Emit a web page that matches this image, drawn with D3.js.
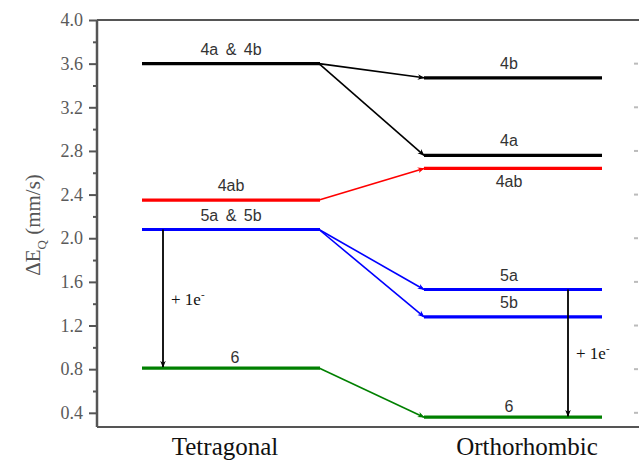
<!DOCTYPE html>
<html><head><meta charset="utf-8">
<script src="https://cdn.jsdelivr.net/npm/d3@7"></script>
<style>body{margin:0;background:#fff;} svg{display:block;}</style>
</head><body>
<svg id="chart" width="639" height="460"></svg>
<script>
// ---- data ----
const phases = ["Tetragonal", "Orthorhombic"];
const tetraLabels = ["4a & 4b", "4ab", "5a & 5b", "6"];
const tetraValues = [3.6, 2.35, 2.08, 0.81];
const tetraGroups = ["4", "4ab", "5", "6"];
const orthoLabels = ["4b", "4a", "4ab", "5a", "5b", "6"];
const orthoValues = [3.47, 2.76, 2.64, 1.53, 1.28, 0.36];
const orthoGroups = ["4", "4", "4ab", "5", "5", "6"];
const links = [[0, 0], [0, 1], [1, 2], [2, 3], [2, 4], [3, 5]]; // tetra index -> ortho index
const transitions = [{phase: "Tetragonal", from: 2.08, to: 0.81}, {phase: "Orthorhombic", from: 1.53, to: 0.36}];
const yTicks = [0.4, 0.8, 1.2, 1.6, 2.0, 2.4, 2.8, 3.2, 3.6, 4.0];
const yMinorTicks = [0.6, 1.0, 1.4, 1.8, 2.2, 2.6, 3.0, 3.4, 3.8];
const yTitle = "ΔE";

// ---- layout ----
const svg = d3.select("#chart");
const L = 97, R = 639, T = 20, B = 427;
const y = d3.scaleLinear().domain([0.27, 4.0]).range([B, T]);
const x = d3.scalePoint().domain(phases).range([231, 513]);
const halfW = 89;
const color = d3.scaleOrdinal().domain(["4", "4ab", "5", "6"]).range(["#000", "#ff0000", "#0000ff", "#008000"]);

// arrow markers
const defs = svg.append("defs");
["#000", "#ff0000", "#0000ff", "#008000"].forEach((c, i) => {
  defs.append("marker").attr("id", "ah" + i).attr("viewBox", "0 0 10 10")
    .attr("refX", 9).attr("refY", 5).attr("markerWidth", 7).attr("markerHeight", 7)
    .attr("markerUnits", "userSpaceOnUse").attr("orient", "auto")
    .append("path").attr("d", "M0,1 L10,5 L0,9 L3,5 Z").attr("fill", c);
});
const markerFor = c => "url(#ah" + ["#000", "#ff0000", "#0000ff", "#008000"].indexOf(c) + ")";

// frame
const frame = svg.append("g").attr("stroke", "#555").attr("stroke-width", 2).attr("fill", "none");
frame.append("line").attr("x1", L).attr("x2", R).attr("y1", T).attr("y2", T);
frame.append("line").attr("x1", L).attr("x2", R).attr("y1", B).attr("y2", B);

// left axis
const yAxis = d3.axisLeft(y).tickValues(yTicks).tickFormat(d3.format(".1f")).tickSize(8).tickPadding(6);
const ga = svg.append("g").attr("transform", `translate(${L},0)`).call(yAxis);
ga.select(".domain").attr("stroke", "#555").attr("stroke-width", 2.5).attr("d", `M0,${T}V${B}`);
ga.selectAll(".tick line").attr("stroke", "#555").attr("stroke-width", 2);
ga.selectAll(".tick text").attr("font-family", "Liberation Serif, serif").attr("font-size", 18).attr("fill", "#5a5a5a");
const gm = svg.append("g").attr("transform", `translate(${L},0)`).call(d3.axisLeft(y).tickValues(yMinorTicks).tickSize(4).tickFormat(""));
gm.select(".domain").remove();
gm.selectAll(".tick line").attr("stroke", "#555").attr("stroke-width", 2);

// faint right ticks
svg.append("g").selectAll("line").data(yTicks.slice(0, 9)).join("line")
  .attr("x1", 634).attr("x2", 638).attr("y1", d => y(d)).attr("y2", d => y(d))
  .attr("stroke", "#bbb").attr("stroke-width", 2);

// y title
const yt = svg.append("text").attr("transform", `translate(40,${225}) rotate(-90)`)
  .attr("text-anchor", "middle").attr("font-family", "Liberation Serif, serif").attr("font-size", 21).attr("fill", "#555");
yt.append("tspan").text(yTitle);
yt.append("tspan").attr("font-size", 13).attr("dy", 6).text("Q");
yt.append("tspan").attr("dy", -6).text(" (mm/s)");

// x category labels
const xOffsets = {"Tetragonal": -6, "Orthorhombic": 14};
svg.append("g").selectAll("text").data(phases).join("text")
  .attr("x", d => x(d) + xOffsets[d]).attr("y", 455).attr("text-anchor", "middle")
  .attr("font-family", "Liberation Serif, serif").attr("font-size", 25).attr("fill", "#111").text(d => d);

// connectors
svg.append("g").selectAll("line").data(links).join("line")
  .attr("x1", x("Tetragonal") + halfW - 1).attr("y1", d => y(tetraValues[d[0]]))
  .attr("x2", x("Orthorhombic") - halfW).attr("y2", d => y(orthoValues[d[1]]))
  .attr("stroke", d => color(orthoGroups[d[1]])).attr("stroke-width", 1.6)
  .attr("marker-end", d => markerFor(color(orthoGroups[d[1]])));

// levels
const tetra = tetraValues.map((v, i) => ({phase: "Tetragonal", v, label: tetraLabels[i], g: tetraGroups[i]}));
const ortho = orthoValues.map((v, i) => ({phase: "Orthorhombic", v, label: orthoLabels[i], g: orthoGroups[i]}));
const levels = tetra.concat(ortho);
svg.append("g").selectAll("line").data(levels).join("line")
  .attr("x1", d => x(d.phase) - halfW).attr("x2", d => x(d.phase) + halfW)
  .attr("y1", d => y(d.v)).attr("y2", d => y(d.v))
  .attr("stroke", d => color(d.g)).attr("stroke-width", 3.2);

// level labels
svg.append("g").selectAll("text").data(levels).join("text")
  .attr("x", d => x(d.phase) + (d.phase === "Tetragonal" ? (d.label === "6" ? 4 : 0) : -4))
  .attr("y", d => y(d.v) + (d.phase === "Orthorhombic" && d.g === "4ab" ? 19 : (d.label === "6" ? -5 : -9)))
  .attr("text-anchor", "middle").attr("font-family", "Liberation Sans, Arial, sans-serif")
  .attr("font-size", 16).attr("fill", "#333").attr("word-spacing", 3).text(d => d.label);

// electron transitions
const arrX = {"Tetragonal": -68, "Orthorhombic": 55};
const tg = svg.append("g").selectAll("g").data(transitions).join("g");
tg.append("line").attr("x1", d => x(d.phase) + arrX[d.phase]).attr("x2", d => x(d.phase) + arrX[d.phase])
  .attr("y1", d => y(d.from)).attr("y2", d => y(d.to) - 1)
  .attr("stroke", "#000").attr("stroke-width", 1.8).attr("marker-end", markerFor("#000"));
const lt = tg.append("text").attr("x", d => x(d.phase) + arrX[d.phase] + 8)
  .attr("y", d => (y(d.from) + y(d.to)) / 2 + 6)
  .attr("font-family", "Liberation Serif, serif").attr("font-size", 17).attr("fill", "#111");
lt.append("tspan").text("+ 1e");
lt.append("tspan").attr("dy", -7).attr("font-size", 11).text("-");
</script>
</body></html>
